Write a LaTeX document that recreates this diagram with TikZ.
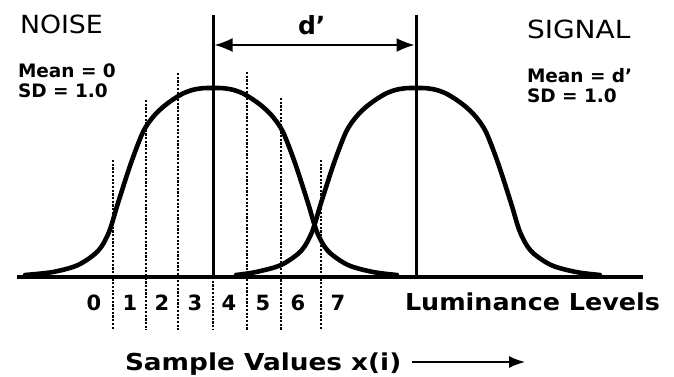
\documentclass[tikz,border=0pt]{standalone}
\usepackage{fontspec}
\setmainfont{DejaVu Sans}
\usetikzlibrary{arrows.meta}
\begin{document}
\begin{tikzpicture}[x=1pt,y=-1pt,
  curve/.style={line width=4.6pt, line join=round, line cap=round},
  meanline/.style={line width=3pt},
  gridline/.style={line width=1.5pt, dash pattern=on 2.2pt off 1.5pt},
  lbl/.style={inner sep=0pt, outer sep=0pt},
  bigtxt/.style={lbl, anchor=base west, font=\fontsize{25}{26}\selectfont},
  stattxt/.style={lbl, anchor=base west, font=\fontsize{18.5}{20}\selectfont\bfseries},
  digit/.style={lbl, anchor=base, font=\fontsize{21}{22}\selectfont\bfseries},
  axtxt/.style={lbl, anchor=base west, font=\fontsize{23.3}{25}\selectfont\bfseries},
]
\useasboundingbox (0,0) rectangle (674,376);

% dotted sample-value boundaries
\foreach \x/\t [count=\i] in {113/160,146/100,178/73,213/277,247/72,281/98,321/160}{
  \coordinate (g\i-top) at (\x,\t);
  \coordinate (g\i-bot) at (\x,330);
  \draw[gridline] (g\i-top) -- (g\i-bot);
}

% noise distribution
\draw[curve, shift={(213,0)}] plot[smooth, tension=0.5] coordinates {
 (-188,275) (-160,272) (-135,265) (-115,251) (-104,232) (-95,203) (-82,163)
 (-70,132) (-60,117) (-50,107) (-40,99.5) (-30,93.5) (-20,89.8) (-10,88.2) (0,88)
 (10,88.2) (20,89.8) (30,93.5) (40,99.5) (50,107) (60,117) (70,132)
 (82,163) (95,203) (104,232) (115,251) (135,265) (160,272) (184,275)};
% signal distribution
\draw[curve, shift={(416,0)}] plot[smooth, tension=0.5] coordinates {
 (-180,275) (-160,272) (-135,265) (-115,251) (-104,232) (-95,203) (-82,163)
 (-70,132) (-60,117) (-50,107) (-40,99.5) (-30,93.5) (-20,89.8) (-10,88.2) (0,88)
 (10,88.2) (20,89.8) (30,93.5) (40,99.5) (50,107) (60,117) (70,132)
 (82,163) (95,203) (104,232) (115,251) (135,265) (160,272) (184,275)};

% baseline
\coordinate (bl-l) at (17,277);
\coordinate (bl-r) at (643,277);
\draw[line width=4pt] (bl-l) -- (bl-r);

% mean lines
\coordinate (nm-top) at (213,15);
\coordinate (nm-bot) at (213,277);
\coordinate (sm-top) at (416,15);
\coordinate (sm-bot) at (416,277);
\draw[meanline] (nm-top) -- (nm-bot);
\draw[meanline] (sm-top) -- (sm-bot);

% d' arrow
\coordinate (da-l) at (214.5,45);
\coordinate (da-r) at (414.5,45);
\draw[line width=1.8pt, {Latex[length=18pt,width=14pt]}-{Latex[length=18pt,width=14pt]}] (da-l) -- (da-r);
\node[lbl, anchor=base west, font=\fontsize{25}{26}\selectfont\bfseries] (dp) at (298,34) {d'};

% titles
\node[bigtxt] (noise) at (20,33) {\scalebox{1.07}[1]{NOISE}};
\node[bigtxt] (signal) at (527,38) {\scalebox{1.12}[1]{SIGNAL}};
\node[stattxt] (nmean) at (18,77) {Mean = 0};
\node[stattxt] (nsd) at (18,97) {SD = 1.0};
\node[stattxt] (smean) at (527,82) {Mean = d'};
\node[stattxt] (ssd) at (527,102) {SD = 1.0};

% sample value labels
\foreach \k/\x in {0/94,1/130,2/162,3/195,4/229,5/263,6/298,7/338}{
  \node[digit] (v\k) at (\x,310) {\k};
}
\node[axtxt] (lum) at (405,310) {\scalebox{1.09}[1]{Luminance Levels}};
\node[axtxt] (samp) at (125,370) {\scalebox{1.13}[1]{Sample Values x(i)}};
\coordinate (sa-start) at (412,362);
\coordinate (sa-end) at (525,362);
\draw[line width=1.6pt, -{Latex[length=16pt,width=12pt]}] (sa-start) -- (sa-end);
\end{tikzpicture}
\end{document}
